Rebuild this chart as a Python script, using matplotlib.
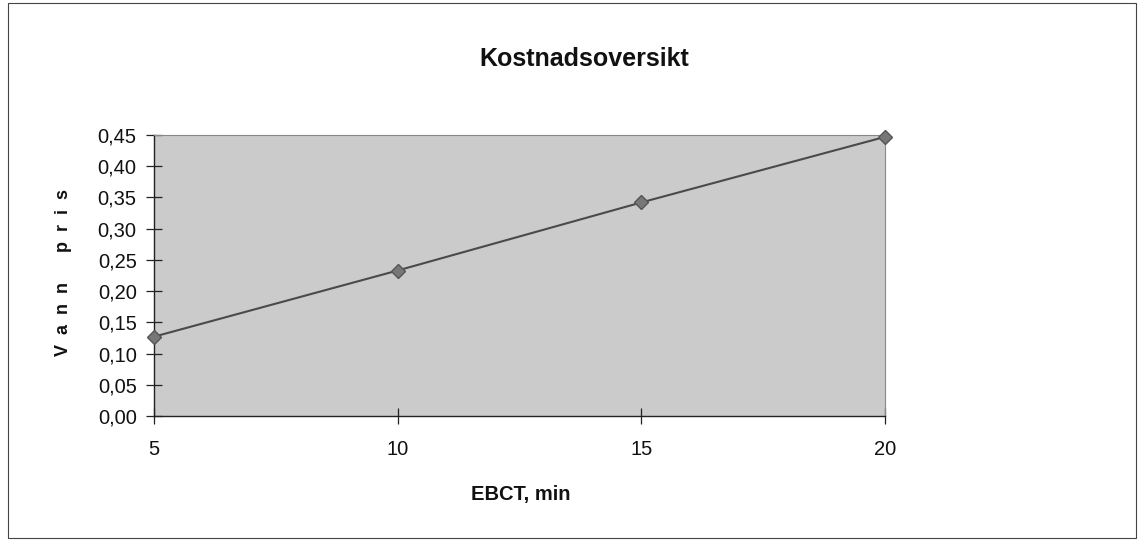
import matplotlib
matplotlib.use('Agg')
import matplotlib.pyplot as plt
from matplotlib.patches import Rectangle
from matplotlib.ticker import FuncFormatter

plt.rcParams['font.family'] = ['Liberation Sans', 'DejaVu Sans']

# data
ebct = [5, 10, 15, 20]
vann_pris = [0.127, 0.233, 0.342, 0.447]
y_ticks = [0.0, 0.05, 0.10, 0.15, 0.20, 0.25, 0.30, 0.35, 0.40, 0.45]
x_ticks = [5, 10, 15, 20]

fig = plt.figure(figsize=(11.42, 5.44), dpi=100)
fig.patches.append(Rectangle((8/1142, 1-538/544), 1128/1142, 535/544,
                             transform=fig.transFigure, fill=False,
                             edgecolor='#444444', linewidth=0.8))

ax = fig.add_axes([154/1142, 1-416/544, (885-154)/1142, (416-135)/544])
ax.set_facecolor('#cbcbcb')
ax.plot(ebct, vann_pris, color='#4a4a4a', linewidth=1.5, marker='D',
        markersize=7.5, markerfacecolor='#777777', markeredgecolor='#555555',
        clip_on=False, zorder=5)

ax.set_xlim(5, 20)
ax.set_ylim(0, 0.45)
ax.set_xticks(x_ticks)
ax.set_yticks(y_ticks)
ax.yaxis.set_major_formatter(FuncFormatter(lambda v, p: f'{v:.2f}'.replace('.', ',')))
ax.tick_params(axis='both', direction='inout', length=11, width=0.9, colors='#222222',
               labelsize=14.5, labelcolor='#111111')
ax.tick_params(axis='x', pad=12)
ax.tick_params(axis='y', pad=7)

for s in ['top', 'right']:
    ax.spines[s].set_color('#888888')
    ax.spines[s].set_linestyle((0, (1, 1)))
    ax.spines[s].set_linewidth(0.8)
for s in ['left', 'bottom']:
    ax.spines[s].set_color('#222222')
    ax.spines[s].set_linewidth(1.0)

fig.text(584/1142, 1-66/544, 'Kostnadsoversikt', ha='center', va='baseline',
         fontsize=18, fontweight='bold', color='#111111')
fig.text(521/1142, 1-500/544, 'EBCT, min', ha='center', va='baseline',
         fontsize=14.5, fontweight='bold', color='#111111')
fig.text(64/1142, 1-272/544, 'V  a  n  n      p  r  i  s', ha='center', va='center',
         rotation=90, fontsize=13, fontweight='bold', color='#111111')

fig.savefig('out.png', dpi=100)
